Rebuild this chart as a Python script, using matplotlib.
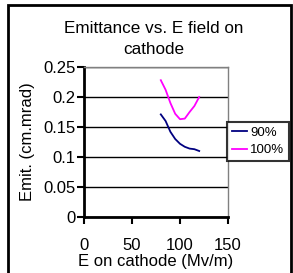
import matplotlib.pyplot as plt
from matplotlib.patches import Rectangle

plt.rcParams['font.family'] = ['Liberation Sans', 'DejaVu Sans']

e_field = [80, 85, 90, 95, 100, 105, 110, 115, 120]
emit_90 = [0.171, 0.160, 0.142, 0.130, 0.122, 0.117, 0.114, 0.113, 0.110]
emit_100 = [0.228, 0.212, 0.190, 0.172, 0.163, 0.164, 0.175, 0.185, 0.200]
xticks = [0, 50, 100, 150]
yticks = [0, 0.05, 0.1, 0.15, 0.2, 0.25]
ytick_labels = ['0', '0.05', '0.1', '0.15', '0.2', '0.25']

fig = plt.figure(figsize=(2.93, 2.73), dpi=100)
ax = fig.add_axes([84 / 293, 1 - 217 / 273, 144 / 293, 150 / 273])

ax.plot(e_field, emit_90, color='#000080', lw=1.3, label='90%')
ax.plot(e_field, emit_100, color='#ff00ff', lw=1.3, label='100%')

ax.set_xlim(0, 150)
ax.set_ylim(0, 0.25)
ax.set_xticks(xticks)
ax.set_yticks(yticks)
ax.set_yticklabels(ytick_labels)
ax.tick_params(axis='x', direction='out', length=5, width=1.5, pad=10, labelsize=12)
ax.tick_params(axis='y', direction='out', length=5, width=1.5, pad=1, labelsize=12)
ax.yaxis.grid(True, color='black', lw=1)
ax.set_axisbelow(True)

for s in ['top', 'right']:
    ax.spines[s].set_color('#808080')
    ax.spines[s].set_linewidth(1)
for s in ['left', 'bottom']:
    ax.spines[s].set_color('black')
    ax.spines[s].set_linewidth(2)

ax.set_xlabel('E on cathode (Mv/m)', fontsize=12, labelpad=1)
ax.set_ylabel('Emit. (cm.mrad)', fontsize=12, labelpad=6)
fig.text(154 / 293, 1 - 39 / 273, 'Emittance vs. E field on\ncathode',
         ha='center', va='center', fontsize=12.3, linespacing=1.5)

leg = fig.legend(loc='upper left', bbox_to_anchor=(227 / 293, 1 - 122 / 273),
                 fontsize=9.5, frameon=True, fancybox=False, borderpad=0.35,
                 handlelength=1.2, handletextpad=0.2, labelspacing=0.4,
                 borderaxespad=0)
leg.get_frame().set_edgecolor('black')
leg.get_frame().set_linewidth(1.5)

fig.patches.append(Rectangle((8 / 293, -0.05), 283 / 293, 1 - 5 / 273 + 0.05,
                             transform=fig.transFigure, fill=False,
                             edgecolor='black', lw=2))

fig.savefig('out.png', dpi=100)
